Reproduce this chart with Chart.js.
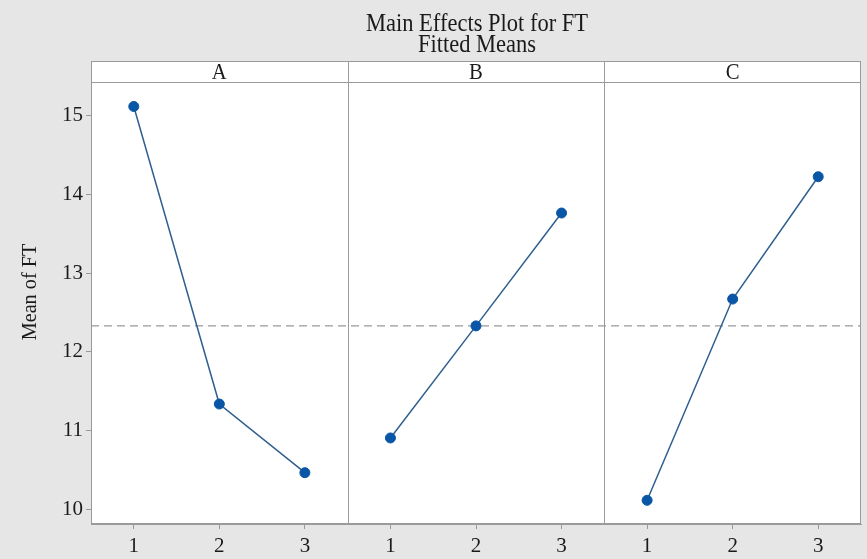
<!DOCTYPE html>
<html><head><meta charset="utf-8">
<script src="https://cdn.jsdelivr.net/npm/chart.js@4"></script>
<style>html,body{margin:0;padding:0;background:#e6e6e6;} #wrap{width:867px;height:559px;}</style>
</head><body><div id="wrap"><canvas id="c" width="867" height="559"></canvas></div>
<script>
// ---- data ----
const factors = ['A', 'B', 'C'];
const levels = [1, 2, 3];
const meanA = [15.11, 11.34, 10.47];
const meanB = [10.91, 12.33, 13.76];
const meanC = [10.12, 12.67, 14.22];
const grandMean = 12.33;
const yTicks = [10, 11, 12, 13, 14, 15];
const titleLines = ['Main Effects Plot for FT', 'Fitted Means'];
const yTitle = 'Mean of FT';

const SERIF = '"Liberation Serif", "DejaVu Serif", serif';
const series = [meanA, meanB, meanC];
const nLev = levels.length;

const datasets = series.map((vals, i) => ({
  type: 'line',
  data: levels.map((lv, j) => ({ x: i * nLev + lv, y: vals[j] })),
  borderColor: '#2f5f8f',
  borderWidth: 1.5,
  pointRadius: 5,
  pointHoverRadius: 5,
  pointBackgroundColor: '#0a56a6',
  pointBorderColor: '#0a56a6',
  pointBorderWidth: 1,
  tension: 0,
  order: 1
}));
datasets.push({
  type: 'line',
  data: [{ x: 0.5, y: grandMean }, { x: factors.length * nLev + 0.5, y: grandMean }],
  borderColor: '#999999',
  borderWidth: 1.3,
  borderDash: [8, 5],
  pointRadius: 0,
  order: 2
});

function condensedText(ctx, text, x, y, size, sx) {
  ctx.save();
  ctx.translate(x, y);
  ctx.scale(sx, 1);
  ctx.font = size + 'px ' + SERIF;
  ctx.fillText(text, 0, 0);
  ctx.restore();
}

const panelPlugin = {
  id: 'panels',
  beforeDraw(chart) {
    const { ctx, chartArea: ca, scales } = chart;
    ctx.save();
    ctx.fillStyle = '#e6e6e6';
    ctx.fillRect(0, 0, chart.width, chart.height);
    ctx.fillStyle = '#ffffff';
    ctx.fillRect(ca.left, ca.top, ca.right - ca.left, ca.bottom - ca.top);
    // title
    ctx.fillStyle = '#1a1a1a';
    ctx.textAlign = 'center';
    ctx.textBaseline = 'middle';
    const cx = (ca.left + ca.right) / 2 + 1;
    condensedText(ctx, titleLines[0], cx, 24, 25, 0.9);
    condensedText(ctx, titleLines[1], cx, 45, 25, 0.9);
    // y title
    ctx.save();
    ctx.translate(30, 292);
    ctx.rotate(-Math.PI / 2);
    ctx.scale(0.92, 1);
    ctx.font = '22px ' + SERIF;
    ctx.fillText(yTitle, 0, 0);
    ctx.restore();
    // header strip
    const hTop = ca.top - 21;
    ctx.fillStyle = '#ffffff';
    ctx.fillRect(ca.left, hTop, ca.right - ca.left, 21);
    ctx.strokeStyle = '#9a9a9a';
    ctx.lineWidth = 1;
    ctx.strokeRect(ca.left + 0.5, hTop + 0.5, ca.right - ca.left - 1, 21);
    ctx.fillStyle = '#1a1a1a';
    factors.forEach((f, i) => {
      const x0 = scales.x.getPixelForValue(i * nLev + 0.5);
      const x1 = scales.x.getPixelForValue((i + 1) * nLev + 0.5);
      condensedText(ctx, f, (x0 + x1) / 2, hTop + 12, 23, 0.9);
      if (i > 0) {
        ctx.beginPath();
        ctx.moveTo(Math.round(x0) + 0.5, hTop);
        ctx.lineTo(Math.round(x0) + 0.5, ca.bottom);
        ctx.stroke();
      }
    });
    ctx.restore();
  },
  afterDraw(chart) {
    const { ctx, chartArea: ca } = chart;
    ctx.save();
    ctx.strokeStyle = '#9a9a9a';
    ctx.lineWidth = 1;
    ctx.strokeRect(ca.left + 0.5, ca.top + 0.5, ca.right - ca.left - 1, ca.bottom - ca.top - 1);
    ctx.restore();
  }
};

new Chart(document.getElementById('c'), {
  type: 'line',
  data: { datasets },
  options: {
    responsive: false,
    devicePixelRatio: 1,
    animation: false,
    layout: { padding: { top: 82, right: 5, left: 0, bottom: 0 } },
    plugins: { legend: { display: false }, tooltip: { enabled: false } },
    scales: {
      x: {
        type: 'linear',
        min: 0.5,
        max: factors.length * nLev + 0.5,
        afterBuildTicks(s) { s.ticks = factors.flatMap((f, i) => levels.map(lv => ({ value: i * nLev + lv }))); },
        afterFit(s) { s.height = 35; },
        ticks: {
          callback: v => String(levels[(Math.round(v) - 1) % nLev]),
          color: '#1a1a1a',
          font: { family: SERIF, size: 21 },
          padding: 5,
          maxRotation: 0,
          autoSkip: false
        },
        grid: { drawOnChartArea: false, drawTicks: true, tickLength: 5, color: '#9a9a9a' },
        border: { display: true, color: '#9a9a9a' }
      },
      y: {
        type: 'linear',
        min: 9.82,
        max: 15.42,
        afterBuildTicks(s) { s.ticks = yTicks.map(v => ({ value: v })); },
        afterFit(s) { s.width = 91; },
        ticks: {
          color: '#1a1a1a',
          font: { family: SERIF, size: 21 },
          padding: 3
        },
        grid: { drawOnChartArea: false, drawTicks: true, tickLength: 5, color: '#9a9a9a' },
        border: { display: true, color: '#9a9a9a' }
      }
    }
  },
  plugins: [panelPlugin]
});
</script>
</body></html>
